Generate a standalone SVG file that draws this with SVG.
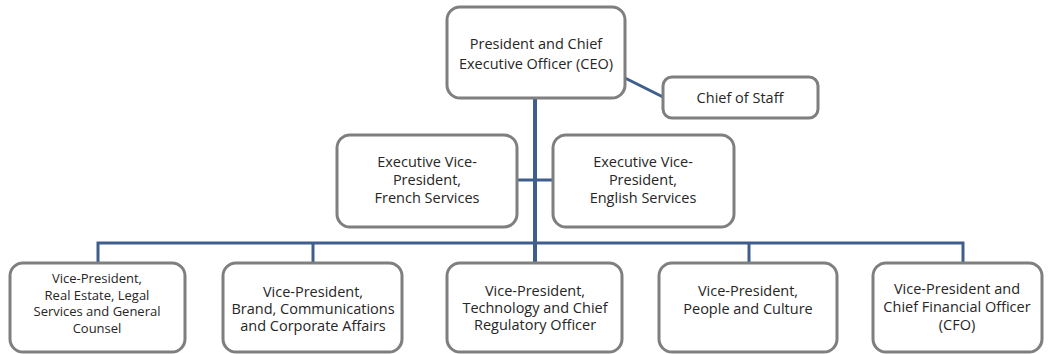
<svg xmlns="http://www.w3.org/2000/svg" width="1052" height="354" viewBox="0 0 1052 354">
  <style>
    .box { fill: #ffffff; stroke: #7f7f7f; stroke-width: 3; }
    .lbl { font-family: "Open Sans", "Liberation Sans", sans-serif; font-size: 14.5px; fill: #262626; text-anchor: middle; }
    .tight { font-size: 13px; }
    .wire { fill: none; stroke: #3e5f8e; stroke-width: 3; }
  </style>
  <rect width="1052" height="354" fill="#ffffff"/>

  <!-- reporting lines -->
  <g id="connectors">
    <line class="wire" x1="625" y1="78" x2="663" y2="97"/>
    <line class="wire" x1="535" y1="97" x2="535" y2="264" style="stroke-width:4"/>
    <line class="wire" x1="517" y1="180" x2="553" y2="180"/>
    <polyline class="wire" points="98,264 98,243 963,243 963,264"/>
    <line class="wire" x1="313" y1="243" x2="313" y2="264"/>
    <line class="wire" x1="749" y1="243" x2="749" y2="264"/>
  </g>

  <g id="ceo">
    <rect class="box" x="447" y="7" width="178" height="91" rx="13"/>
    <text class="lbl" x="536" y="49">President and Chief</text>
    <text class="lbl" x="536" y="69">Executive Officer  (CEO)</text>
  </g>

  <g id="chief-of-staff">
    <rect class="box" x="663" y="77" width="155" height="41" rx="9"/>
    <text class="lbl" x="740" y="103">Chief of Staff</text>
  </g>

  <g id="evp-french">
    <rect class="box" x="337" y="135" width="180" height="92" rx="13"/>
    <text class="lbl" x="427" y="167">Executive Vice-</text>
    <text class="lbl" x="427" y="185">President,</text>
    <text class="lbl" x="427" y="203">French Services</text>
  </g>

  <g id="evp-english">
    <rect class="box" x="553" y="135" width="181" height="92" rx="13"/>
    <text class="lbl" x="643" y="167">Executive Vice-</text>
    <text class="lbl" x="643" y="185">President,</text>
    <text class="lbl" x="643" y="203">English Services</text>
  </g>

  <g id="vp-real-estate">
    <rect class="box" x="10" y="263" width="175" height="89" rx="13"/>
    <text class="lbl tight" x="97" y="283">Vice-President,</text>
    <text class="lbl tight" x="97" y="299.5">Real Estate,  Legal</text>
    <text class="lbl tight" x="97" y="316">Services and General</text>
    <text class="lbl tight" x="97" y="332.5">Counsel</text>
  </g>

  <g id="vp-brand">
    <rect class="box" x="223" y="263" width="179" height="89" rx="13"/>
    <text class="lbl" x="313" y="297">Vice-President,</text>
    <text class="lbl" x="313" y="314">Brand, Communications</text>
    <text class="lbl" x="313" y="331">and Corporate Affairs</text>
  </g>

  <g id="vp-technology">
    <rect class="box" x="447" y="263" width="175" height="89" rx="13"/>
    <text class="lbl" x="535" y="296">Vice-President,</text>
    <text class="lbl" x="535" y="313">Technology and Chief</text>
    <text class="lbl" x="535" y="330">Regulatory Officer</text>
  </g>

  <g id="vp-people">
    <rect class="box" x="659" y="263" width="178" height="89" rx="13"/>
    <text class="lbl" x="748" y="296">Vice-President,</text>
    <text class="lbl" x="748" y="314">People and Culture</text>
  </g>

  <g id="vp-cfo">
    <rect class="box" x="873" y="263" width="169" height="89" rx="13"/>
    <text class="lbl" x="957" y="294">Vice-President and</text>
    <text class="lbl" x="957" y="312">Chief Financial Officer</text>
    <text class="lbl" x="957" y="330">(CFO)</text>
  </g>
</svg>
